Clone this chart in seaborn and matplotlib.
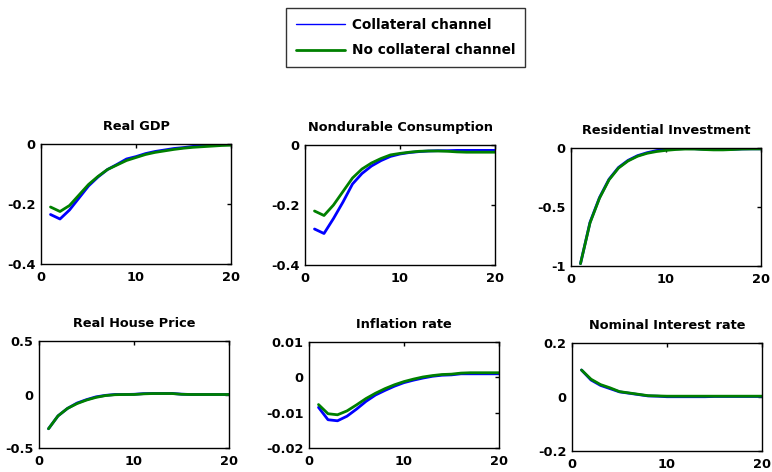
import matplotlib
matplotlib.use("Agg")
import matplotlib.pyplot as plt
import seaborn as sns
import pandas as pd

# horizon (quarters)
t = list(range(1, 21))

gdp_coll = [-0.235, -0.25, -0.22, -0.18, -0.14, -0.11, -0.085, -0.068, -0.05, -0.042,
            -0.032, -0.025, -0.02, -0.015, -0.012, -0.008, -0.005, -0.003, -0.002, -0.001]
gdp_nocoll = [-0.21, -0.225, -0.205, -0.17, -0.135, -0.108, -0.085, -0.07, -0.055, -0.045,
              -0.035, -0.028, -0.023, -0.018, -0.014, -0.011, -0.009, -0.007, -0.005, -0.004]

cons_coll = [-0.28, -0.295, -0.245, -0.19, -0.13, -0.095, -0.07, -0.052, -0.038, -0.03,
             -0.025, -0.022, -0.02, -0.019, -0.019, -0.018, -0.018, -0.018, -0.018, -0.018]
cons_nocoll = [-0.22, -0.235, -0.2, -0.155, -0.11, -0.08, -0.06, -0.045, -0.033, -0.028,
               -0.024, -0.021, -0.02, -0.02, -0.021, -0.023, -0.024, -0.024, -0.024, -0.024]

resinv_coll = [-0.98, -0.63, -0.42, -0.265, -0.165, -0.105, -0.065, -0.04, -0.022, -0.012,
               -0.007, -0.005, -0.006, -0.01, -0.013, -0.013, -0.011, -0.008, -0.007, -0.007]
resinv_nocoll = [-0.98, -0.635, -0.425, -0.27, -0.17, -0.11, -0.07, -0.045, -0.03, -0.02,
                 -0.013, -0.009, -0.009, -0.013, -0.016, -0.016, -0.013, -0.009, -0.008, -0.008]

hp_coll = [-0.32, -0.2, -0.13, -0.08, -0.048, -0.022, -0.008, 0.0, 0.0, 0.002,
           0.008, 0.01, 0.01, 0.01, 0.003, 0.0, 0.0, 0.0, 0.0, 0.0]
hp_nocoll = [-0.32, -0.2, -0.13, -0.085, -0.052, -0.027, -0.01, -0.002, 0.0, 0.0,
             0.006, 0.009, 0.009, 0.009, 0.002, 0.0, 0.0, 0.0, 0.0, 0.0]

infl_coll = [-0.0085, -0.012, -0.0123, -0.011, -0.009, -0.0068, -0.005, -0.0037, -0.0025, -0.0015,
             -0.0008, -0.0002, 0.0003, 0.0006, 0.0007, 0.001, 0.001, 0.001, 0.001, 0.001]
infl_nocoll = [-0.0077, -0.0103, -0.0106, -0.0095, -0.0078, -0.006, -0.0045, -0.0032, -0.0021, -0.0012,
               -0.0005, 0.0001, 0.0005, 0.0008, 0.0009, 0.0012, 0.0013, 0.0013, 0.0013, 0.0013]

rate_coll = [0.1, 0.063, 0.043, 0.031, 0.019, 0.014, 0.009, 0.004, 0.003, 0.001,
             0.001, 0.001, 0.001, 0.001, 0.002, 0.002, 0.002, 0.002, 0.002, 0.002]
rate_nocoll = [0.1, 0.066, 0.046, 0.034, 0.02, 0.015, 0.01, 0.005, 0.004, 0.003,
               0.003, 0.003, 0.003, 0.003, 0.003, 0.003, 0.003, 0.003, 0.003, 0.003]

titles = ["Real GDP", "Nondurable Consumption", "Residential Investment",
          "Real House Price", "Inflation rate", "Nominal Interest rate"]
series = [(gdp_coll, gdp_nocoll), (cons_coll, cons_nocoll), (resinv_coll, resinv_nocoll),
          (hp_coll, hp_nocoll), (infl_coll, infl_nocoll), (rate_coll, rate_nocoll)]
ylims = [(-0.4, 0), (-0.4, 0), (-1, 0), (-0.5, 0.5), (-0.02, 0.01), (-0.2, 0.2)]
yticks = [[-0.4, -0.2, 0], [-0.4, -0.2, 0], [-1, -0.5, 0],
          [-0.5, 0, 0.5], [-0.02, -0.01, 0, 0.01], [-0.2, 0, 0.2]]
ytick_labels = [["-0.4", "-0.2", "0"], ["-0.4", "-0.2", "0"], ["-1", "-0.5", "0"],
                ["-0.5", "0", "0.5"], ["-0.02", "-0.01", "0", "0.01"], ["-0.2", "0", "0.2"]]

sns.set_style("white")
plt.rcParams['font.family'] = ['DejaVu Sans']
plt.rcParams['font.weight'] = 'bold'
plt.rcParams['text.color'] = 'black'
plt.rcParams['axes.labelcolor'] = 'black'
plt.rcParams['xtick.color'] = 'black'
plt.rcParams['ytick.color'] = 'black'

fig = plt.figure(figsize=(7.72, 4.72), dpi=100)
W, H = 772, 472
# axes boxes in pixels: left, top, right, bottom
boxes = [(41, 144, 231, 264), (305, 145, 495, 265), (571, 148, 761, 266),
         (39, 341, 229, 448), (309, 342, 499, 448), (572, 343, 762, 451)]

for i, (l, tp, r, b) in enumerate(boxes):
    ax = fig.add_axes([l / W, 1 - b / H, (r - l) / W, (b - tp) / H])
    coll, nocoll = series[i]
    df = pd.DataFrame({"t": t, "Collateral channel": coll, "No collateral channel": nocoll})
    sns.lineplot(data=df, x="t", y="Collateral channel", ax=ax, color="#0000ff", lw=2,
                 legend=False)
    sns.lineplot(data=df, x="t", y="No collateral channel", ax=ax, color="#008000", lw=2,
                 legend=False)
    ax.set_xlim(0, 20)
    ax.set_ylim(*ylims[i])
    ax.set_xticks([0, 10, 20])
    ax.set_xticklabels(["0", "10", "20"])
    ax.set_yticks(yticks[i])
    ax.set_yticklabels(ytick_labels[i])
    ax.set_xlabel("")
    ax.set_ylabel("")
    ax.set_title(titles[i], fontsize=9.3, fontweight="bold", pad=10, color="black")
    ax.tick_params(direction="in", length=3, width=1, labelsize=9.3, top=True, right=True,
                   colors="black")
    ax.tick_params(axis="x", pad=5)
    ax.tick_params(axis="y", pad=4)
    for lab in ax.get_xticklabels() + ax.get_yticklabels():
        lab.set_fontweight("bold")
    for s in ax.spines.values():
        s.set_visible(True)
        s.set_color("black")
        s.set_linewidth(1)

handles = [plt.Line2D([], [], color="#0000ff", lw=1),
           plt.Line2D([], [], color="#008000", lw=2)]
leg = fig.legend(handles, ["Collateral channel", "No collateral channel"],
                 loc="center", bbox_to_anchor=(405.5 / W, 1 - 37.5 / H),
                 frameon=True, fancybox=False, edgecolor="black", fontsize=9.8,
                 handlelength=3.6, handletextpad=0.5, borderpad=0.7, borderaxespad=0,
                 labelspacing=0.85)
leg.get_frame().set_linewidth(1)
for txt in leg.get_texts():
    txt.set_fontweight("bold")
    txt.set_color("black")

fig.savefig("out.png", dpi=100, facecolor="white")
